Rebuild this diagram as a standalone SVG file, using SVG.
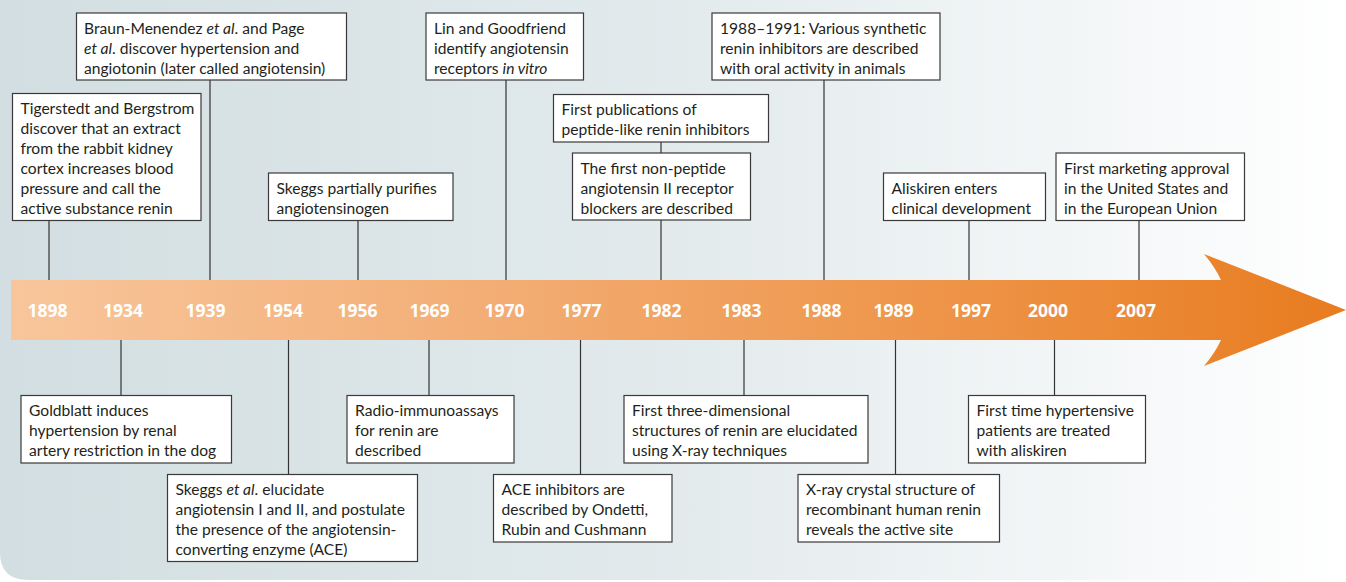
<svg xmlns="http://www.w3.org/2000/svg" width="1346" height="582" viewBox="0 0 1346 582">
<defs>
<linearGradient id="bg" x1="0" y1="0" x2="1346" y2="0" gradientUnits="userSpaceOnUse">
<stop offset="0" stop-color="#d2dee1"/>
<stop offset="0.5" stop-color="#e2eaec"/>
<stop offset="0.85" stop-color="#f6f8f9"/>
<stop offset="1" stop-color="#ffffff"/>
</linearGradient>
<linearGradient id="band" x1="11" y1="0" x2="1346" y2="0" gradientUnits="userSpaceOnUse">
<stop offset="0" stop-color="#f8c69c"/>
<stop offset="0.35" stop-color="#f3ae76"/>
<stop offset="0.7" stop-color="#ee9448"/>
<stop offset="1" stop-color="#e87c1f"/>
</linearGradient>
<style>
.box{fill:#ffffff;stroke:#3a3a3a;stroke-width:1.2}
.t{font-family:Lato,"Open Sans","Liberation Sans",sans-serif;font-size:15.6px;fill:#231f20}
.yr{font-family:"Open Sans",Lato,"Liberation Sans",sans-serif;font-size:17.5px;font-weight:bold;fill:#ffffff;text-anchor:middle}
.ln{stroke:#333333;stroke-width:1.2;fill:none}
</style>
</defs>
<rect width="1346" height="582" fill="#ffffff"/>
<path d="M0,0 H1346 V580 H28 Q0,580 0,552 Z" fill="url(#bg)"/>

<g id="connectors">
<line class="ln" x1="49" y1="221" x2="49" y2="280"/>
<line class="ln" x1="210" y1="80" x2="210" y2="280"/>
<line class="ln" x1="358" y1="221" x2="358" y2="280"/>
<line class="ln" x1="506" y1="80" x2="506" y2="280"/>
<line class="ln" x1="661" y1="142" x2="661" y2="280"/>
<line class="ln" x1="824" y1="80" x2="824" y2="280"/>
<line class="ln" x1="969" y1="221" x2="969" y2="280"/>
<line class="ln" x1="1139" y1="221" x2="1139" y2="280"/>
<line class="ln" x1="121" y1="340" x2="121" y2="395"/>
<line class="ln" x1="288.5" y1="340" x2="288.5" y2="474"/>
<line class="ln" x1="429" y1="340" x2="429" y2="395"/>
<line class="ln" x1="580.5" y1="340" x2="580.5" y2="474"/>
<line class="ln" x1="744" y1="340" x2="744" y2="395"/>
<line class="ln" x1="895.5" y1="340" x2="895.5" y2="474"/>
<line class="ln" x1="1054.5" y1="340" x2="1054.5" y2="395"/>
</g>

<g id="timeline">
<path d="M11,280 H1221 Q1215,267 1204,254 L1346,310 L1204,366 Q1215,353 1221,340 H11 Z" fill="url(#band)"/>
<text class="yr" x="47.5" y="317">1898</text>
<text class="yr" x="123" y="317">1934</text>
<text class="yr" x="205.5" y="317">1939</text>
<text class="yr" x="283" y="317">1954</text>
<text class="yr" x="357.5" y="317">1956</text>
<text class="yr" x="429.5" y="317">1969</text>
<text class="yr" x="504.5" y="317">1970</text>
<text class="yr" x="581.5" y="317">1977</text>
<text class="yr" x="661.5" y="317">1982</text>
<text class="yr" x="741.5" y="317">1983</text>
<text class="yr" x="821.5" y="317">1988</text>
<text class="yr" x="893.5" y="317">1989</text>
<text class="yr" x="971" y="317">1997</text>
<text class="yr" x="1048" y="317">2000</text>
<text class="yr" x="1136" y="317">2007</text>
</g>

<g id="n1898">
<rect class="box" x="12.5" y="93.5" width="188.5" height="127"/>
<text class="t" x="20.5"><tspan x="20.5" y="113.5">Tigerstedt and Bergstrom</tspan><tspan x="20.5" y="133.5">discover that an extract</tspan><tspan x="20.5" y="153.5">from the rabbit kidney</tspan><tspan x="20.5" y="173.5">cortex increases blood</tspan><tspan x="20.5" y="193.5">pressure and call the</tspan><tspan x="20.5" y="213.5">active substance renin</tspan></text>
</g>
<g id="n1939">
<rect class="box" x="76.5" y="13" width="270" height="67"/>
<text class="t"><tspan x="84" y="33.5">Braun-Menendez <tspan font-style="italic">et al</tspan>. and Page</tspan><tspan x="84" y="53.5"><tspan font-style="italic">et al</tspan>. discover hypertension and</tspan><tspan x="84" y="73.5">angiotonin (later called angiotensin)</tspan></text>
</g>
<g id="n1956">
<rect class="box" x="268.5" y="173" width="184.5" height="47.5"/>
<text class="t"><tspan x="276.5" y="193.5">Skeggs partially purifies</tspan><tspan x="276.5" y="213.5">angiotensinogen</tspan></text>
</g>
<g id="n1970">
<rect class="box" x="426" y="13" width="157.5" height="67"/>
<text class="t"><tspan x="434" y="33.5">Lin and Goodfriend</tspan><tspan x="434" y="53.5">identify angiotensin</tspan><tspan x="434" y="73.5">receptors <tspan font-style="italic">in vitro</tspan></tspan></text>
</g>
<g id="n1982a">
<rect class="box" x="553.5" y="94.5" width="215" height="47.5"/>
<text class="t"><tspan x="561.5" y="115">First publications of</tspan><tspan x="561.5" y="135">peptide-like renin inhibitors</tspan></text>
</g>
<g id="n1982b">
<rect class="box" x="572.5" y="153" width="178" height="67"/>
<text class="t"><tspan x="580.5" y="173.5">The first non-peptide</tspan><tspan x="580.5" y="193.5">angiotensin II receptor</tspan><tspan x="580.5" y="213.5">blockers are described</tspan></text>
</g>
<g id="n1988">
<rect class="box" x="712" y="13" width="228" height="67"/>
<text class="t"><tspan x="720" y="33.5">1988–1991: Various synthetic</tspan><tspan x="720" y="53.5">renin inhibitors are described</tspan><tspan x="720" y="73.5">with oral activity in animals</tspan></text>
</g>
<g id="n1997">
<rect class="box" x="883.5" y="173" width="162" height="47.5"/>
<text class="t"><tspan x="891.5" y="193.5">Aliskiren enters</tspan><tspan x="891.5" y="213.5">clinical development</tspan></text>
</g>
<g id="n2007">
<rect class="box" x="1056" y="153" width="188.5" height="67.5"/>
<text class="t"><tspan x="1064" y="173.5">First marketing approval</tspan><tspan x="1064" y="193.5">in the United States and</tspan><tspan x="1064" y="213.5">in the European Union</tspan></text>
</g>

<g id="n1934">
<rect class="box" x="21" y="395.5" width="210.5" height="67.5"/>
<text class="t"><tspan x="29" y="416">Goldblatt induces</tspan><tspan x="29" y="436">hypertension by renal</tspan><tspan x="29" y="456">artery restriction in the dog</tspan></text>
</g>
<g id="n1954">
<rect class="box" x="167.5" y="474.5" width="250" height="87"/>
<text class="t"><tspan x="175.5" y="495">Skeggs <tspan font-style="italic">et al</tspan>. elucidate</tspan><tspan x="175.5" y="515">angiotensin I and II, and postulate</tspan><tspan x="175.5" y="535">the presence of the angiotensin-</tspan><tspan x="175.5" y="555">converting enzyme (ACE)</tspan></text>
</g>
<g id="n1969">
<rect class="box" x="347" y="395.5" width="167" height="67.5"/>
<text class="t"><tspan x="355" y="416">Radio-immunoassays</tspan><tspan x="355" y="436">for renin are</tspan><tspan x="355" y="456">described</tspan></text>
</g>
<g id="n1977">
<rect class="box" x="493.5" y="474.5" width="178.5" height="67.5"/>
<text class="t"><tspan x="501.5" y="495">ACE inhibitors are</tspan><tspan x="501.5" y="515">described by Ondetti,</tspan><tspan x="501.5" y="535">Rubin and Cushmann</tspan></text>
</g>
<g id="n1983">
<rect class="box" x="624" y="395.5" width="244" height="67.5"/>
<text class="t"><tspan x="632" y="416">First three-dimensional</tspan><tspan x="632" y="436">structures of renin are elucidated</tspan><tspan x="632" y="456">using X-ray techniques</tspan></text>
</g>
<g id="n1989">
<rect class="box" x="798" y="474.5" width="201.5" height="67.5"/>
<text class="t"><tspan x="806" y="495">X-ray crystal structure of</tspan><tspan x="806" y="515">recombinant human renin</tspan><tspan x="806" y="535">reveals the active site</tspan></text>
</g>
<g id="n2000">
<rect class="box" x="968.5" y="395.5" width="177" height="67.5"/>
<text class="t"><tspan x="976.5" y="416">First time hypertensive</tspan><tspan x="976.5" y="436">patients are treated</tspan><tspan x="976.5" y="456">with aliskiren</tspan></text>
</g>
</svg>
